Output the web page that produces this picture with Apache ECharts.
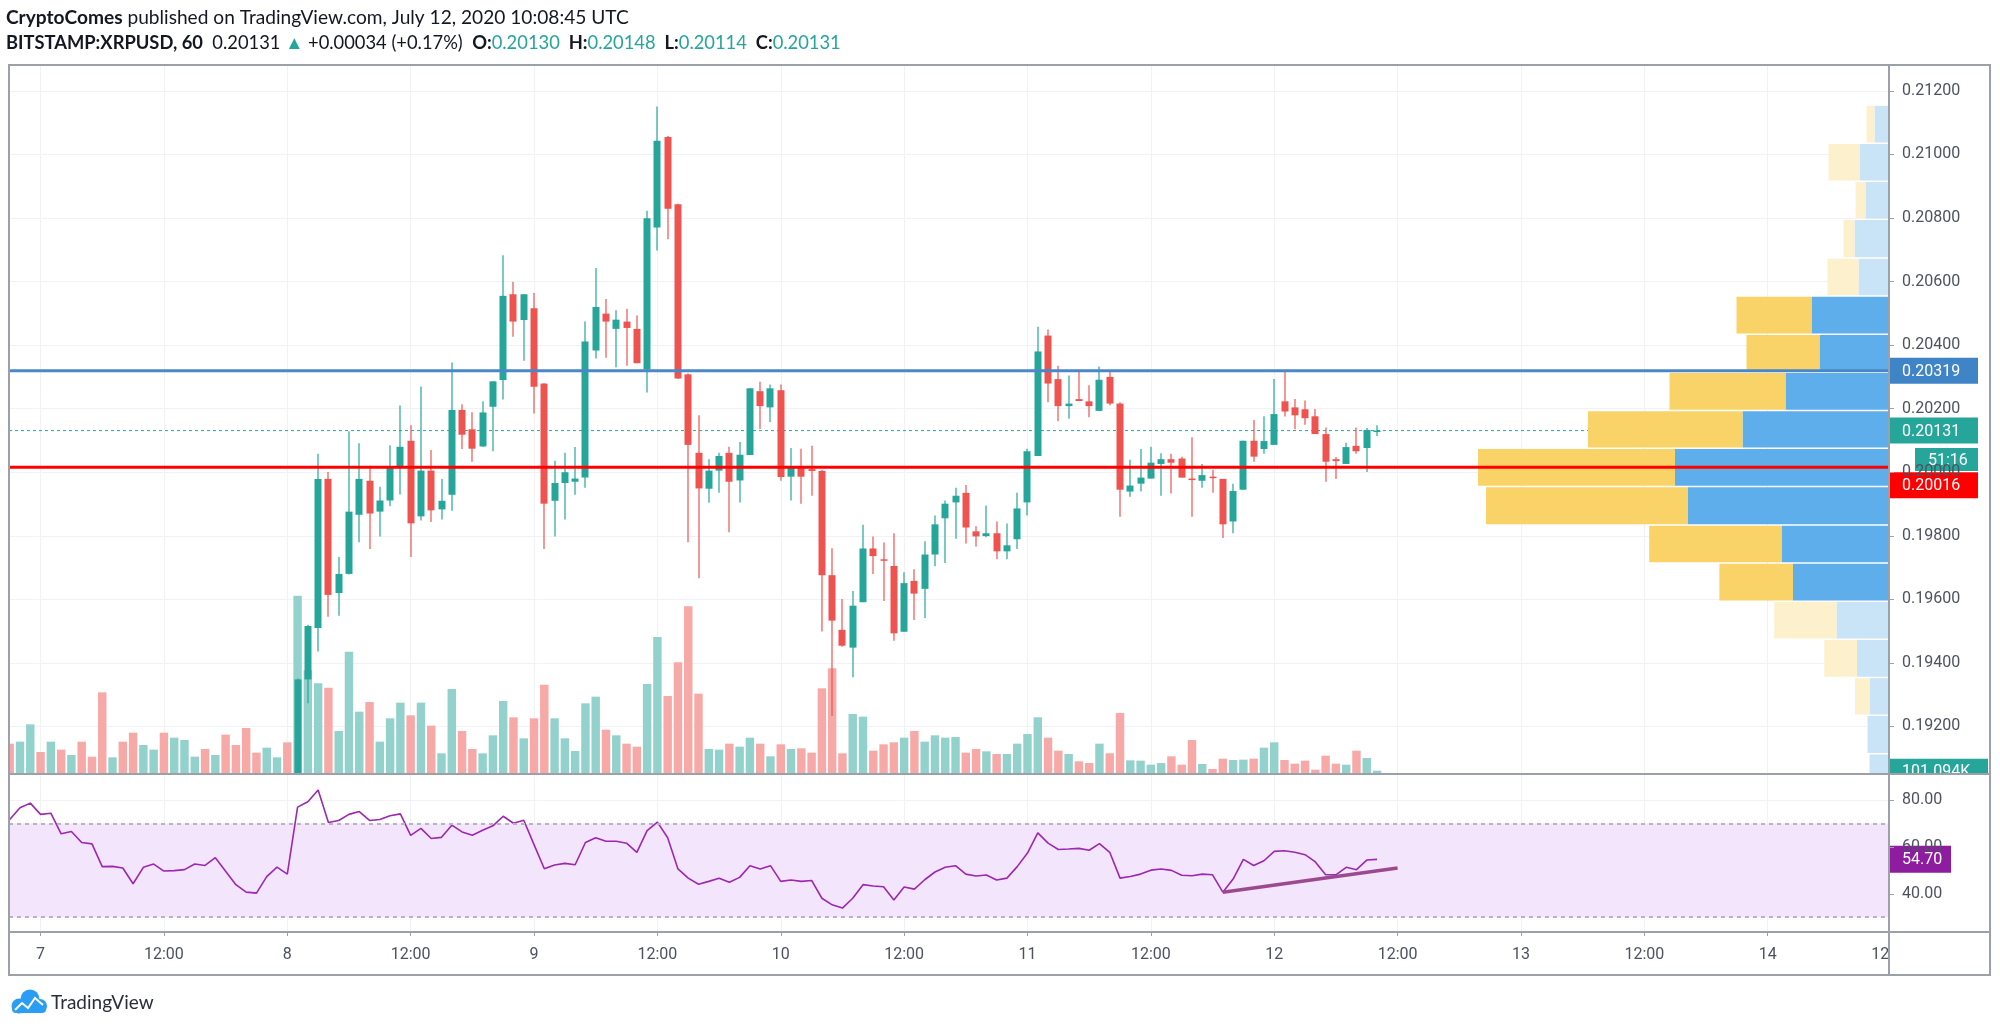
<!DOCTYPE html>
<html><head><meta charset="utf-8">
<script src="https://cdn.jsdelivr.net/npm/echarts@6/dist/echarts.min.js"></script>
<style>html,body{margin:0;padding:0;background:#fff;}#c{width:2000px;height:1030px;}</style>
</head><body><div id="c"></div>
<script>
// ---------------- DATA ----------------
// time unit: hours since 2020-07-07 00:00 UTC
const volStartHour = -3;      // first volume bar: Jul 6 21:00
const candleStartHour = 25;   // first visible candle: Jul 8 01:00

const openP = [0.18350,0.19348,0.19510,0.19979,0.19620,0.19680,0.19866,0.19973,0.19876,0.19911,0.20018,0.20099,0.19861,0.20005,0.19883,0.19929,0.20196,0.20135,0.20081,0.20206,0.20290,0.20560,0.20479,
0.20516,0.20279,0.19910,0.19966,0.19970,0.19983,0.20383,0.20499,0.20451,0.20474,0.20451,0.20323,0.20770,0.21055,0.20843,0.20308,0.20061,0.19948,0.20005,0.20061,0.19974,0.20054,0.20255,0.20204,
0.20258,0.19986,0.20016,0.20010,0.20004,0.19676,0.19504,0.19448,0.19591,0.19760,0.19726,0.19705,0.19498,0.19658,0.19633,0.19741,0.19855,0.19905,0.19935,0.19814,0.19799,0.19808,0.19751,0.19789,
0.19905,0.20051,0.20430,0.20293,0.20208,0.20230,0.20223,0.20193,0.20300,0.20216,0.19939,0.19964,0.19980,0.20026,0.20041,0.20043,0.19980,0.19973,0.19986,0.19979,0.19845,0.19945,0.20099,0.20073,
0.20086,0.20223,0.20204,0.20198,0.20176,0.20120,0.20041,0.20026,0.20083,0.20076,0.20130];
const highP = [0.19351,0.19520,0.20058,0.20001,0.19733,0.20129,0.20091,0.20020,0.19954,0.20085,0.20210,0.20148,0.20270,0.20070,0.19979,0.20345,0.20214,0.20189,0.20223,0.20286,0.20683,0.20599,0.20560,
0.20564,0.20280,0.20036,0.20061,0.20079,0.20474,0.20643,0.20545,0.20510,0.20514,0.20493,0.20823,0.21151,0.21058,0.20845,0.20311,0.20179,0.20041,0.20061,0.20080,0.20095,0.20264,0.20285,0.20276,
0.20276,0.20076,0.20074,0.20083,0.20008,0.19761,0.19601,0.19626,0.19835,0.19798,0.19779,0.19808,0.19685,0.19695,0.19783,0.19864,0.19911,0.19951,0.19960,0.19830,0.19895,0.19845,0.19839,0.19935,
0.20074,0.20458,0.20449,0.20335,0.20304,0.20320,0.20274,0.20333,0.20318,0.20220,0.20039,0.20073,0.20080,0.20060,0.20058,0.20049,0.20110,0.20026,0.20008,0.19979,0.19964,0.20099,0.20164,0.20176,
0.20293,0.20320,0.20230,0.20226,0.20199,0.20141,0.20048,0.20093,0.20141,0.20139,0.20148];
const lowP = [0.18320,0.19273,0.19436,0.19545,0.19548,0.19678,0.19780,0.19758,0.19798,0.19893,0.19930,0.19733,0.19848,0.19843,0.19851,0.19879,0.20073,0.20033,0.20080,0.20066,0.20229,0.20426,0.20351,
0.20185,0.19758,0.19798,0.19851,0.19929,0.19951,0.20358,0.20360,0.20330,0.20335,0.20343,0.20251,0.20698,0.20733,0.20293,0.19780,0.19666,0.19904,0.19935,0.19811,0.19905,0.20054,0.20136,0.20158,
0.19973,0.19911,0.19901,0.19926,0.19499,0.19233,0.19451,0.19355,0.19591,0.19680,0.19595,0.19470,0.19498,0.19535,0.19541,0.19704,0.19714,0.19791,0.19776,0.19766,0.19795,0.19726,0.19726,0.19758,
0.19864,0.20051,0.20220,0.20160,0.20168,0.20224,0.20173,0.20193,0.20211,0.19860,0.19923,0.19939,0.19980,0.19926,0.19933,0.19983,0.19860,0.19951,0.19935,0.19793,0.19808,0.19945,0.20033,0.20058,
0.20086,0.20175,0.20135,0.20149,0.20120,0.19970,0.19979,0.20026,0.20058,0.20001,0.20114];
const closeP = [0.19348,0.19516,0.19979,0.19614,0.19680,0.19876,0.19979,0.19870,0.19911,0.20018,0.20080,0.19839,0.20005,0.19880,0.19910,0.20196,0.20118,0.20074,0.20188,0.20286,0.20555,0.20474,0.20560,
0.20269,0.19901,0.19966,0.20000,0.19980,0.20411,0.20520,0.20474,0.20480,0.20454,0.20343,0.20799,0.21043,0.20829,0.20295,0.20086,0.19949,0.20005,0.20051,0.19970,0.20055,0.20264,0.20208,0.20264,
0.19985,0.20014,0.19986,0.20004,0.19676,0.19533,0.19454,0.19580,0.19760,0.19736,0.19723,0.19493,0.19651,0.19618,0.19741,0.19836,0.19901,0.19926,0.19826,0.19798,0.19808,0.19751,0.19770,0.19886,
0.20066,0.20380,0.20279,0.20208,0.20216,0.20224,0.20208,0.20291,0.20216,0.19945,0.19958,0.19983,0.20030,0.20041,0.20030,0.19983,0.19976,0.19991,0.19983,0.19836,0.19941,0.20099,0.20049,0.20098,
0.20183,0.20191,0.20179,0.20170,0.20120,0.20033,0.20035,0.20079,0.20066,0.20133,0.20131];

// hourly volume (thousands XRP), Jul 6 21:00 .. Jul 12 10:00
const volumeK = [1291,1379,2142,924,1379,1027,792,1379,719,3550,690,1379,1775,1232,1027,1775,1555,1452,719,1056,792,1687,1232,1980,895,1115,690,1350,
7804,4518,3946,3756,1848,5340,2699,3125,1379,2406,3095,2538,3095,2083,866,3697,1848,1056,866,1658,3169,2450,1526,2406,
3888,2406,1526,968,3066,3359,1907,1658,1291,1159,3917,5985,3389,4870,7335,3491,1056,1027,1291,1159,1555,1291,734,
1262,1056,1086,895,3726,4606,866,2597,2479,983,1262,1350,1555,1848,1379,1658,1555,1584,895,1056,954,836,836,1291,
1716,2450,1555,983,836,513,440,1291,866,2641,557,543,367,440,734,367,1452,396,176,631,572,587,631,1115,
1350,572,411,543,147,763,411,367,983,660,101.094];
// direction of the bars before the first visible candle (1 = up)
const earlyVolUp = [0,1,1,0,1,0,1,0,0,0,1,0,0,1,1,0,1,1,1,0,1,0,0,0,0,1,1,0];

// RSI(14), Jul 6 21:00 .. Jul 12 10:00
const rsiValues = [71.7,76.7,78.7,73.9,74.4,65.6,66.6,61.9,61.3,51.6,51.7,51.0,44.3,51.3,52.7,49.7,49.9,50.3,52.7,52.1,55.4,49.6,43.9,40.7,40.3,47.3,51.4,48.4,
77.0,79.3,84.3,70.4,71.3,73.9,75.1,71.3,71.7,73.3,74.1,64.9,67.9,63.6,64.1,69.3,66.4,65.0,67.1,69.0,73.1,70.1,71.4,
61.0,50.7,52.3,53.0,52.4,61.9,63.9,62.4,62.4,61.6,57.7,67.0,70.6,63.9,50.6,46.7,44.1,45.3,46.6,44.9,47.0,52.0,50.6,52.0,
45.3,45.9,45.3,45.7,38.1,35.3,33.9,38.1,43.9,43.3,43.0,37.4,42.9,42.0,46.0,49.3,51.3,52.0,48.4,47.6,48.0,45.9,46.7,51.6,
57.4,66.0,61.6,58.9,59.1,59.4,58.6,61.4,57.7,46.7,47.4,48.4,50.1,50.6,50.0,47.9,47.7,48.4,48.1,40.7,46.3,54.7,52.1,54.1,
58.1,58.4,57.7,56.7,53.6,48.1,48.1,51.3,50.3,54.4,54.70];
const rsiTrend = [[115, 40.7], [132, 51.0]];
const rsiBands = [30, 70];

// visible range volume profile rows (price edges top→bottom), up / down volume, value-area flag
const vpEdges = [0.21156,0.21036,0.20916,0.20797,0.20675,0.20555,0.20435,0.20315,0.20195,0.20076,0.19956,0.19835,0.19715,0.19595,0.19475,0.19355,0.19236,0.19115,0.18996];
const vpUp   = [14.5,29.5,23.5,34.5,30.5,77.5,69.5,103.5,146.5,214,201,107.5,96,52.5,32,19,21,19];
const vpDown = [8,31,10,11,31,75,73,116,154.5,197,202,132.3,73.6,62.3,32.7,15,1,1];
const vpValueArea = [0,0,0,0,0,1,1,1,1,1,1,1,1,0,0,0,0,0];

// horizontal levels
const levelBlue = 0.20319;
const levelRed = 0.20016;
const countdown = '51:16';

// axis ticks
const timeTicks = [0,12,24,36,48,60,72,84,96,108,120,132,144,156,168];
const timeTickBeyond = 180;
const priceTicks = [0.192,0.194,0.196,0.198,0.200,0.202,0.204,0.206,0.208,0.210,0.212];
const rsiTicks = [40,60,80];

// header texts
const headerLine1 = [['CryptoComes','b'],[' published on TradingView.com, July 12, 2020 10:08:45 UTC','n']];
const headerLine2 = [['BITSTAMP:XRPUSD, 60','b'],['  0.20131 ','n'],['▲','g'],[' +0.00034 (+0.17%)  ','n'],
  ['O:','b'],['0.20130','g'],['  H:','b'],['0.20148','g'],['  L:','b'],['0.20114','g'],['  C:','b'],['0.20131','g']];

// ---------------- STYLE ----------------
const UP = '#26a69a', DOWN = '#ef5350';
const VOL_UP = '#93d2cc', VOL_DOWN = '#f7a9a7';
const VP_UP = '#5daeea', VP_DN = '#f9d367', VP_UP_PALE = '#c9e3f7', VP_DN_PALE = '#fdf0cd';
const GRID = '#f0f2f8', TXT = '#4c525e', BORDER = '#9ca0a8';
const RSI_COL = '#9c27b0';
const X_MIN = -3.07, X_MAX = 179.8;
const P_MIN = 0.190535, P_MAX = 0.212814;
const VOL_MAX = 31152;
const RSI_MIN = 23.7, RSI_MAX = 90.7;
const AX_FONT = 'Roboto';

// ---------------- BUILD ----------------
const candleData = openP.map((o, i) => [candleStartHour + i, o, closeP[i], lowP[i], highP[i]]);
const volData = volumeK.map((v, i) => {
  const h = volStartHour + i, j = h - candleStartHour;
  const up = j >= 0 ? (closeP[j] >= openP[j] ? 1 : 0) : earlyVolUp[i];
  return [h, v, up];
});
const rsiData = rsiValues.map((v, i) => [volStartHour + i, v]);
const vpData = vpUp.map((u, i) => [u, vpDown[i], vpEdges[i], vpEdges[i + 1], vpValueArea[i]]);
const lastClose = closeP[closeP.length - 1];
const lastVol = volumeK[volumeK.length - 1];
const lastRsi = rsiValues[rsiValues.length - 1];

function clip(x, y, w, h, cs) {
  return echarts.graphic.clipRectByRect({x: x, y: y, width: w, height: h},
    {x: cs.x, y: cs.y, width: cs.width, height: cs.height});
}
function renderVolume(params, api) {
  const h = api.value(0), v = api.value(1), up = api.value(2);
  const top = api.coord([h, v]), base = api.coord([h, 0]);
  const w = api.size([1, 0])[0] * 0.82;
  const r = clip(top[0] - w / 2, top[1], w, base[1] - top[1], params.coordSys);
  if (!r) return null;
  return {type: 'rect', shape: r, style: {fill: up ? VOL_UP : VOL_DOWN}};
}
function renderCandle(params, api) {
  const h = api.value(0), o = api.value(1), c = api.value(2), l = api.value(3), hi = api.value(4);
  const cs = params.coordSys;
  const pO = api.coord([h, o]), pC = api.coord([h, c]), pL = api.coord([h, l]), pH = api.coord([h, hi]);
  const bw = api.size([1, 0])[0] * 0.68;
  const cx = Math.round(pO[0]);
  const col = c >= o ? UP : DOWN;
  const yT = Math.min(pO[1], pC[1]), yB = Math.max(pO[1], pC[1]);
  const children = [];
  const wick = clip(cx - 0.6, pH[1], 1.2, pL[1] - pH[1], cs);
  const body = clip(cx - bw / 2, yT, bw, Math.max(yB - yT, 1.5), cs);
  if (wick) children.push({type: 'rect', shape: wick, style: {fill: col}});
  if (body) children.push({type: 'rect', shape: body, style: {fill: col}});
  return {type: 'group', children: children};
}
function renderVP(params, api) {
  const up = api.value(0), dn = api.value(1), pt = api.value(2), pb = api.value(3), va = api.value(4);
  const cs = params.coordSys;
  const a = api.coord([0, pt]), b = api.coord([up, pb]), c = api.coord([up + dn, pb]);
  const yT = a[1] + 1, yB = b[1] - 0.5;
  const children = [];
  const blue = clip(b[0], yT, a[0] - b[0], yB - yT, cs);
  const yel = clip(c[0], yT, b[0] - c[0], yB - yT, cs);
  if (blue) children.push({type: 'rect', shape: blue, style: {fill: va ? VP_UP : VP_UP_PALE}});
  if (yel && dn > 0) children.push({type: 'rect', shape: yel, style: {fill: va ? VP_DN : VP_DN_PALE}});
  return {type: 'group', children: children};
}
function fmtTime(v) { return (v % 24 === 0) ? String(7 + v / 24) : '12:00'; }
function hLine(level, z, style) {
  return {type: 'line', xAxisIndex: 0, yAxisIndex: 0, z: z, silent: true, showSymbol: false, symbol: 'none',
    data: [[X_MIN, level], [X_MAX, level]], lineStyle: style};
}

// font fit for header lines
const HFONT = 'Lato';
function fitSize(parts, target) {
  const ctx = document.createElement('canvas').getContext('2d');
  let w = 0;
  parts.forEach(p => { ctx.font = (p[1] === 'b' ? 'bold ' : '') + '100px ' + HFONT; w += ctx.measureText(p[0]).width; });
  return 100 * target / w;
}
function richLine(parts, size) {
  return {
    text: parts.map(p => '{' + p[1] + '|' + p[0] + '}').join(''),
    rich: {
      b: {fontFamily: HFONT, fontSize: size, fontWeight: 'bold', fill: '#131722'},
      n: {fontFamily: HFONT, fontSize: size, fill: '#131722'},
      g: {fontFamily: HFONT, fontSize: size, fill: UP}
    }
  };
}
const s1 = fitSize(headerLine1, 623), s2 = fitSize(headerLine2, 835);
const h1 = richLine(headerLine1, s1), h2 = richLine(headerLine2, s2);

const noZero = {show: false, onZero: false};
const chart = echarts.init(document.getElementById('c'));
const option = {
  animation: false,
  backgroundColor: '#ffffff',
  grid: [
    {left: 9, top: 65, width: 1880, height: 708},
    {left: 9, top: 775, width: 1880, height: 157}
  ],
  xAxis: [
    {type: 'value', gridIndex: 0, min: X_MIN, max: X_MAX, axisLine: noZero,
     axisTick: {show: false, customValues: timeTicks}, axisLabel: {show: false, customValues: timeTicks},
     splitLine: {show: true, lineStyle: {color: GRID, width: 1}}},
    {type: 'value', gridIndex: 1, min: X_MIN, max: X_MAX, position: 'bottom', axisLine: noZero,
     axisTick: {show: true, length: 4, customValues: timeTicks, lineStyle: {color: BORDER}},
     axisLabel: {customValues: timeTicks, formatter: fmtTime, color: TXT, fontSize: 16, fontFamily: AX_FONT, margin: 15},
     splitLine: {show: true, lineStyle: {color: GRID, width: 1}}},
    {type: 'value', gridIndex: 0, inverse: true, min: 0, max: 1880, show: false, axisLine: noZero}
  ],
  yAxis: [
    {type: 'value', gridIndex: 0, position: 'right', min: P_MIN, max: P_MAX,
     axisLine: noZero,
     axisTick: {show: true, length: 5, customValues: priceTicks, lineStyle: {color: BORDER}},
     axisLabel: {customValues: priceTicks, formatter: v => v.toFixed(5), color: TXT, fontSize: 16, fontFamily: AX_FONT, margin: 13},
     splitLine: {show: true, lineStyle: {color: GRID, width: 1}}},
    {type: 'value', gridIndex: 0, position: 'left', min: 0, max: VOL_MAX, show: false, axisLine: noZero,
     axisTick: {show: false}, axisLabel: {show: false}, splitLine: {show: false}},
    {type: 'value', gridIndex: 1, position: 'right', min: RSI_MIN, max: RSI_MAX,
     axisLine: noZero,
     axisTick: {show: true, length: 5, customValues: rsiTicks, lineStyle: {color: BORDER}},
     axisLabel: {customValues: rsiTicks, formatter: v => v.toFixed(2), color: TXT, fontSize: 16, fontFamily: AX_FONT, margin: 13},
     splitLine: {show: true, lineStyle: {color: GRID, width: 1}}}
  ],
  series: [
    {type: 'custom', name: 'volume', xAxisIndex: 0, yAxisIndex: 1, z: 1, clip: true,
     renderItem: renderVolume, data: volData, encode: {x: 0, y: 1}, silent: true},
    hLine(lastClose, 2, {color: UP, width: 1, type: [3, 3]}),
    {type: 'custom', name: 'candles', xAxisIndex: 0, yAxisIndex: 0, z: 3, clip: true,
     renderItem: renderCandle, data: candleData, encode: {x: 0, y: [1, 2, 3, 4]}, silent: true},
    {type: 'custom', name: 'vp', xAxisIndex: 2, yAxisIndex: 0, z: 4, clip: true,
     renderItem: renderVP, data: vpData, encode: {x: 0, y: 2}, silent: true},
    hLine(levelBlue, 5, {color: '#4a87c9', width: 3}),
    hLine(levelRed, 5, {color: '#ff0000', width: 3}),
    {type: 'line', name: 'RSI', xAxisIndex: 1, yAxisIndex: 2, z: 3, data: rsiData, showSymbol: false, silent: true,
     lineStyle: {color: RSI_COL, width: 1.6},
     markArea: {silent: true, itemStyle: {color: '#f3e5fc'}, data: [[{yAxis: rsiBands[0]}, {yAxis: rsiBands[1]}]]},
     markLine: {silent: true, symbol: ['none', 'none'], label: {show: false},
       data: [
         {yAxis: rsiBands[1], lineStyle: {color: '#b9b3bf', width: 2, type: [4, 4]}},
         {yAxis: rsiBands[0], lineStyle: {color: '#b9b3bf', width: 2, type: [4, 4]}},
         [{coord: rsiTrend[0], lineStyle: {color: '#9b4a8f', width: 3.5, type: 'solid'}}, {coord: rsiTrend[1]}]
       ]}}
  ],
  graphic: [
    {type: 'text', x: 6, y: 18, z: 100, style: Object.assign({verticalAlign: 'middle'}, h1)},
    {type: 'text', x: 6, y: 43, z: 100, style: Object.assign({verticalAlign: 'middle'}, h2)},
    // logo
    {type: 'group', x: 0, y: 0, z: 100, children: [
      {type: 'circle', shape: {cx: 19, cy: 1006, r: 7.5}, style: {fill: '#2a9df4'}},
      {type: 'circle', shape: {cx: 30, cy: 999, r: 9.5}, style: {fill: '#2a9df4'}},
      {type: 'circle', shape: {cx: 40, cy: 1006, r: 7}, style: {fill: '#2a9df4'}},
      {type: 'rect', shape: {x: 12, y: 1005, width: 34, height: 8, r: 4}, style: {fill: '#2a9df4'}},
      {type: 'polyline', shape: {points: [[15, 1010], [22, 1003], [28, 1008], [35, 998], [43, 1005]]}, style: {stroke: '#ffffff', lineWidth: 2, fill: null}},
      {type: 'text', x: 51, y: 1003, style: {text: 'TradingView', fontFamily: 'Lato', fontSize: 19, fill: '#2a2e39', verticalAlign: 'middle'}}
    ]}
  ]
};
chart.setOption(option);

// ---- price-axis labels & frame (positions from the chart's own scales) ----
const axX = chart.convertToPixel({xAxisIndex: 0}, X_MAX);
const leftX = chart.convertToPixel({xAxisIndex: 0}, X_MIN);
const yBlue = chart.convertToPixel({yAxisIndex: 0}, levelBlue);
const yRed = chart.convertToPixel({yAxisIndex: 0}, levelRed);
const yLast = chart.convertToPixel({yAxisIndex: 0}, lastClose);
const yVol = chart.convertToPixel({yAxisIndex: 1}, lastVol);
const yRsi = chart.convertToPixel({yAxisIndex: 2}, lastRsi);
const yRsiTop = chart.convertToPixel({yAxisIndex: 2}, RSI_MAX);
const yRsiBot = chart.convertToPixel({yAxisIndex: 2}, RSI_MIN);
const yTop = chart.convertToPixel({yAxisIndex: 0}, P_MAX);
const yPaneBot = chart.convertToPixel({yAxisIndex: 0}, P_MIN);
const xBeyond = chart.convertToPixel({xAxisIndex: 1}, timeTickBeyond);
const rightX = 1990, bottomY = 975;

function tag(y, text, bg, w, h, dx) {
  dx = dx || 0;
  return {type: 'group', x: axX + dx, y: y, z: 120, children: [
    {type: 'rect', shape: {x: 0, y: -h / 2, width: w, height: h}, style: {fill: bg}},
    {type: 'text', x: 13, y: 1, style: {text: text, fill: '#ffffff', fontFamily: AX_FONT, fontSize: 16, verticalAlign: 'middle'}}
  ]};
}
const g = option.graphic.slice();
g.push(
  {type: 'text', x: xBeyond, y: yRsiBot + 15, z: 90, style: {text: fmtTime(timeTickBeyond), fill: TXT, fontFamily: AX_FONT, fontSize: 16, align: 'center', verticalAlign: 'top'}},
  tag(yBlue, levelBlue.toFixed(5), '#3f84c7', 89, 26),
  tag(yLast, lastClose.toFixed(5), UP, 89, 26),
  tag(yLast + 29, countdown, UP, 63, 23, 26),
  tag(yRed + 18, levelRed.toFixed(5), '#ff0000', 89, 26),
  tag(yVol, lastVol.toFixed(3) + 'K', UP, 99, 24),
  tag(yRsi, lastRsi.toFixed(2), '#8e1c9e', 62, 27),
  // covers: clip overflowing tag, and time-axis row under price scale
  {type: 'rect', z: 130, shape: {x: axX + 1, y: yPaneBot + 1, width: rightX - axX - 1, height: yRsiTop - yPaneBot + 8}, style: {fill: '#ffffff'}},
  {type: 'rect', z: 130, shape: {x: axX + 1, y: yRsiBot + 1, width: rightX - axX - 1, height: bottomY - yRsiBot - 2}, style: {fill: '#ffffff'}},
  // frame
  {type: 'rect', z: 140, shape: {x: leftX, y: yTop, width: rightX - leftX, height: bottomY - yTop}, style: {fill: null, stroke: BORDER, lineWidth: 2}},
  {type: 'line', z: 140, shape: {x1: leftX, y1: yPaneBot + 1, x2: rightX, y2: yPaneBot + 1}, style: {stroke: BORDER, lineWidth: 2}},
  {type: 'line', z: 140, shape: {x1: leftX, y1: yRsiBot, x2: rightX, y2: yRsiBot}, style: {stroke: BORDER, lineWidth: 2}},
  {type: 'line', z: 140, shape: {x1: axX, y1: yTop, x2: axX, y2: bottomY}, style: {stroke: BORDER, lineWidth: 2}}
);
chart.setOption({graphic: g}, {replaceMerge: ['graphic']});
</script></body></html>
